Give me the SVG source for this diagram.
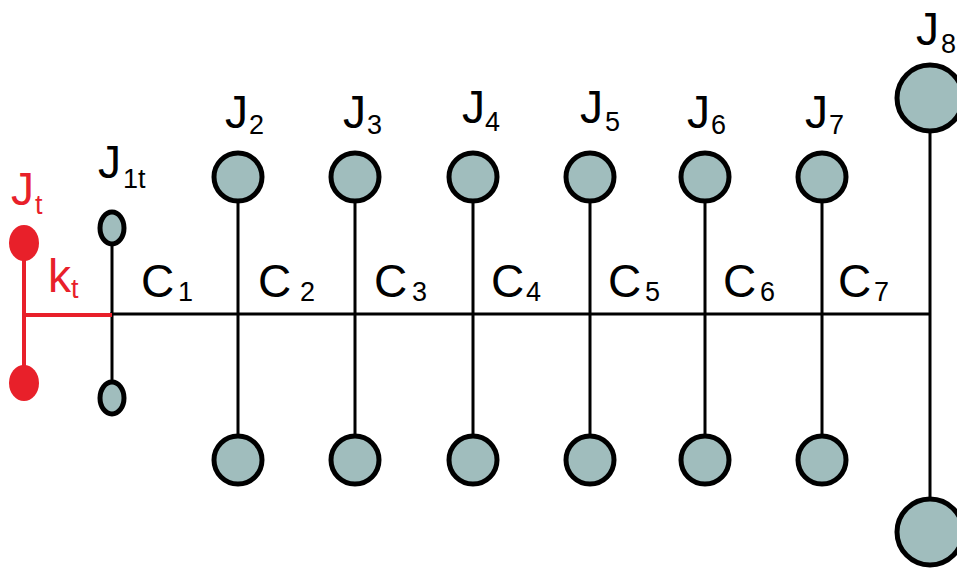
<svg xmlns="http://www.w3.org/2000/svg" width="957" height="583" viewBox="0 0 957 583">
<style>
.disk{fill:#a0bdbd;stroke:#000;stroke-width:5}
.shaft{stroke:#000;stroke-width:3;fill:none}
.lbl{font-family:"Liberation Sans",Arial,sans-serif;font-size:46px;fill:#000}
.sub{font-family:"Liberation Sans",Arial,sans-serif;font-size:27px;fill:#000}
.red{fill:#e8202a}
.redl{stroke:#e8202a;stroke-width:4;fill:none}
.rt{fill:#e8202a}
</style>
<rect width="957" height="583" fill="#fff"/>
<g id="connectors">
<line class="shaft" x1="110" y1="314" x2="930" y2="314"/>
<line class="shaft" x1="112" y1="228" x2="112" y2="398"/>
<line class="shaft" x1="238" y1="177" x2="238" y2="460"/>
<line class="shaft" x1="355" y1="177" x2="355" y2="460"/>
<line class="shaft" x1="473" y1="177" x2="473" y2="460"/>
<line class="shaft" x1="590" y1="177" x2="590" y2="460"/>
<line class="shaft" x1="705" y1="177" x2="705" y2="460"/>
<line class="shaft" x1="822" y1="177" x2="822" y2="460"/>
<line class="shaft" x1="930" y1="98" x2="930" y2="532"/>
<line class="redl" x1="24" y1="243" x2="24" y2="383"/>
<line class="redl" x1="24" y1="315" x2="112" y2="315"/>
</g>
<g id="Jt">
<ellipse class="red" cx="24" cy="243" rx="15" ry="18"/>
<ellipse class="red" cx="24" cy="383" rx="15" ry="18"/>
<text x="11" y="205" class="lbl rt">J</text>
<text x="35" y="214" class="sub rt">t</text>
<text x="48" y="292" class="lbl rt">k</text>
<text x="71" y="298" class="sub rt">t</text>
</g>
<g id="J1t">
<ellipse class="disk" cx="112" cy="228" rx="12" ry="16"/>
<ellipse class="disk" cx="112" cy="398" rx="12" ry="16"/>
<text x="98" y="178" class="lbl">J</text>
<text x="123" y="188" class="sub">1t</text>
</g>
<g id="J2">
<circle class="disk" cx="238" cy="177" r="24"/>
<circle class="disk" cx="238" cy="460" r="24"/>
<text x="225" y="128" class="lbl">J</text>
<text x="249" y="134" class="sub">2</text>
</g>
<g id="J3">
<circle class="disk" cx="355" cy="177" r="24"/>
<circle class="disk" cx="355" cy="460" r="24"/>
<text x="343" y="128" class="lbl">J</text>
<text x="367" y="134" class="sub">3</text>
</g>
<g id="J4">
<circle class="disk" cx="473" cy="177" r="24"/>
<circle class="disk" cx="473" cy="460" r="24"/>
<text x="462" y="123" class="lbl">J</text>
<text x="485" y="131" class="sub">4</text>
</g>
<g id="J5">
<circle class="disk" cx="590" cy="177" r="24"/>
<circle class="disk" cx="590" cy="460" r="24"/>
<text x="580" y="123" class="lbl">J</text>
<text x="605" y="131" class="sub">5</text>
</g>
<g id="J6">
<circle class="disk" cx="705" cy="177" r="24"/>
<circle class="disk" cx="705" cy="460" r="24"/>
<text x="687" y="128" class="lbl">J</text>
<text x="711" y="134" class="sub">6</text>
</g>
<g id="J7">
<circle class="disk" cx="822" cy="177" r="24"/>
<circle class="disk" cx="822" cy="460" r="24"/>
<text x="805" y="128" class="lbl">J</text>
<text x="829" y="134" class="sub">7</text>
</g>
<g id="J8">
<circle class="disk" cx="930" cy="98" r="33"/>
<circle class="disk" cx="930" cy="532" r="33"/>
<text x="916" y="45" class="lbl">J</text>
<text x="941" y="53" class="sub">8</text>
</g>
<g id="labels">
<text x="141" y="297" class="lbl">C</text><text x="178" y="301" class="sub">1</text>
<text x="258" y="297" class="lbl">C</text><text x="300" y="301" class="sub">2</text>
<text x="374" y="297" class="lbl">C</text><text x="412" y="301" class="sub">3</text>
<text x="491" y="297" class="lbl">C</text><text x="526" y="301" class="sub">4</text>
<text x="608" y="297" class="lbl">C</text><text x="645" y="301" class="sub">5</text>
<text x="723" y="297" class="lbl">C</text><text x="760" y="301" class="sub">6</text>
<text x="838" y="297" class="lbl">C</text><text x="874" y="301" class="sub">7</text>
</g>
</svg>
